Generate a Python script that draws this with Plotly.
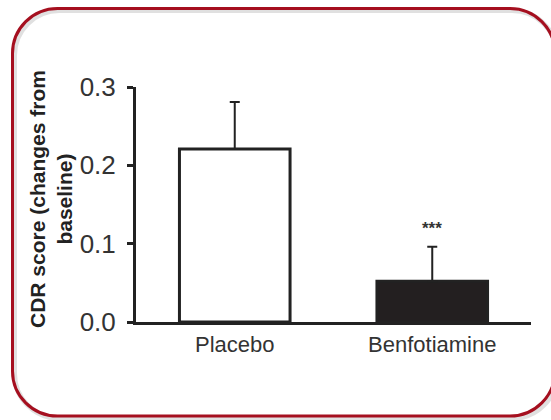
import plotly.graph_objects as go

# ---- data ----
categories = ["Placebo", "Benfotiamine"]
means = [0.221, 0.052]
errors = [0.060, 0.044]
fills = ["#ffffff", "#231f20"]
sig_labels = ["", "***"]
y_ticks = [0.0, 0.1, 0.2, 0.3]
y_tick_text = ["0.0", "0.1", "0.2", "0.3"]
y_title = "CDR score (changes from<br>baseline)"

# ---- layout geometry (pixels) ----
W, H = 551, 420
L, R, T, B = 136, 20, 87, 98
PW, PH = W - L - R, H - T - B


def pp(x, y):
    return (x - L) / PW, (H - B - y) / PH


def rounded_path(x0, y0, x1, y1, rad):
    k = 0.5523 * rad
    def P(x, y):
        a, b = pp(x, y)
        return f"{a:.5f},{b:.5f}"
    d = f"M {P(x0+rad, y0)} L {P(x1-rad, y0)} "
    d += f"C {P(x1-rad+k, y0)} {P(x1, y0+rad-k)} {P(x1, y0+rad)} "
    d += f"L {P(x1, y1-rad)} "
    d += f"C {P(x1, y1-rad+k)} {P(x1-rad+k, y1)} {P(x1-rad, y1)} "
    d += f"L {P(x0+rad, y1)} "
    d += f"C {P(x0+rad-k, y1)} {P(x0, y1-rad+k)} {P(x0, y1-rad)} "
    d += f"L {P(x0, y0+rad)} "
    d += f"C {P(x0, y0+rad-k)} {P(x0+rad-k, y0)} {P(x0+rad, y0)} Z"
    return d


fig = go.Figure()
fig.add_trace(go.Bar(
    x=categories,
    y=means,
    width=0.56,
    marker=dict(color=fills, line=dict(color="#222222", width=3)),
    error_y=dict(type="data", symmetric=False, array=errors,
                 arrayminus=[0, 0], thickness=2, width=5, color="#222222"),
    showlegend=False,
))

for c, m, e, s in zip(categories, means, errors, sig_labels):
    if s:
        fig.add_annotation(x=c, y=m + e + 0.023, text=s, showarrow=False,
                           font=dict(size=17, color="#333333",
                                     family="Liberation Sans", weight="bold"),
                           yanchor="middle", xanchor="center")

# axis title as annotation
tx, ty = pp(51, 199)
fig.add_annotation(xref="paper", yref="paper", x=tx, y=ty, text=y_title,
                   textangle=-90, showarrow=False, xanchor="center",
                   yanchor="middle",
                   font=dict(size=21, color="#222222",
                             family="Liberation Sans", weight="bold"))

# border with soft shadow
fig.add_shape(type="path", xref="paper", yref="paper",
              path=rounded_path(14.5, 10.5, 557, 418.5, 45),
              line=dict(color="rgba(0,0,0,0.12)", width=5), layer="below")
fig.add_shape(type="path", xref="paper", yref="paper",
              path=rounded_path(12.5, 8.5, 555, 416, 45),
              line=dict(color="#a50f1f", width=3), layer="below")

fig.update_layout(
    width=W, height=H,
    margin=dict(l=L, r=R, t=T, b=B, pad=0),
    paper_bgcolor="white", plot_bgcolor="white",
    font=dict(family="Liberation Sans", color="#333333"),
    bargap=0.44,
    xaxis=dict(range=[-0.5, 1.5], showline=True, linecolor="#222222",
               linewidth=3, ticks="", showgrid=False, zeroline=False,
               tickfont=dict(size=22, color="#333333"),
               ticklabelstandoff=1),
    yaxis=dict(range=[0, 0.3], tickvals=y_ticks, ticktext=y_tick_text,
               showline=True, linecolor="#222222", linewidth=3,
               ticks="outside", ticklen=6, tickwidth=2.5,
               tickcolor="#222222", showgrid=False, zeroline=False,
               tickfont=dict(size=26, color="#333333"),
               ticklabelstandoff=6),
)

fig.write_html("out.html")
